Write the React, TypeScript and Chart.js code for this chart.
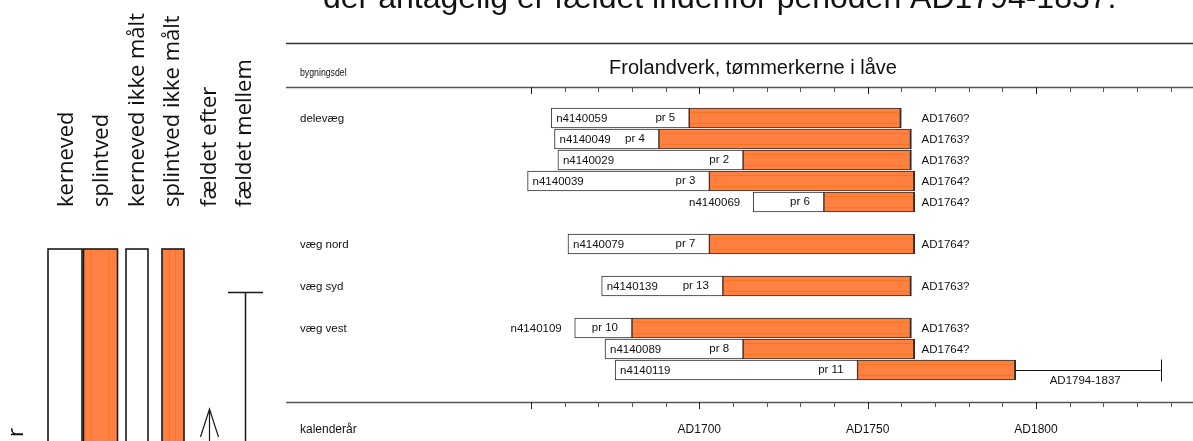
import React, { useEffect, useRef } from 'react';
import { Chart, registerables } from 'chart.js';

Chart.register(...registerables);

// ---------- data ----------
const pageHeading = 'der antagelig er fældet indenfor perioden AD1794-1837.';
const chartTitle = 'Frolandverk, tømmerkerne i låve';
const topAxisLabel = 'bygningsdel';
const bottomAxisLabel = 'kalenderår';

const groupLabels = ['delevæg', 'væg nord', 'væg syd', 'væg vest'];
const groupRows = [0, 6, 8, 10];

const sampleIds = ['n4140059', 'n4140049', 'n4140029', 'n4140039', 'n4140069', 'n4140079', 'n4140139', 'n4140109', 'n4140089', 'n4140119'];
const probeLabels = ['pr 5', 'pr 4', 'pr 2', 'pr 3', 'pr 6', 'pr 7', 'pr 13', 'pr 10', 'pr 8', 'pr 11'];
const sampleRows = [0, 1, 2, 3, 4, 6, 8, 10, 11, 12];
const startYears = [1656, 1657, 1658, 1649, 1716, 1661, 1671, 1663, 1672, 1675];
const sapwoodStartYears = [1697, 1688, 1713, 1703, 1737, 1703, 1707, 1680, 1713, 1747];
const endYears = [1760, 1763, 1763, 1764, 1764, 1764, 1763, 1763, 1764, 1794];
const datingLabels = ['AD1760?', 'AD1763?', 'AD1763?', 'AD1764?', 'AD1764?', 'AD1764?', 'AD1763?', 'AD1763?', 'AD1764?', 'AD1794-1837'];
const fellingRangeSample = 9;
const fellingRange = [1794, 1837];
const datingLabelYear = 1766;

const axisLabelYears = [1700, 1750, 1800];
const axisLabels = ['AD1700', 'AD1750', 'AD1800'];
const tickStartYear = 1650;
const tickEndYear = 1840;
const tickStep = 10;
const majorTickStep = 50;

const legendLabels = ['kerneved', 'splintved', 'kerneved ikke målt', 'splintved ikke målt', 'fældet efter', 'fældet mellem'];

// ---------- styles ----------
const ORANGE = 'rgb(255,128,64)';
const STRIPE = 'rgb(247,118,28)';
const EDGE = '#2e2e2e';
const SMALL_FONT = '11.5px "Liberation Sans", Arial, sans-serif';
const AXIS_FONT = '12px "Liberation Sans", Arial, sans-serif';
const LEGEND_FONT = '22px "Open Sans", "Noto Sans", sans-serif';

const decorPlugin = {
  id: 'decor',
  beforeDatasetsDraw(chart: any) {
    const ctx = chart.ctx as CanvasRenderingContext2D;
    const xs = chart.scales.x;
    const area = chart.chartArea;
    ctx.save();
    // frame lines
    ctx.strokeStyle = '#333';
    ctx.lineWidth = 1.5;
    ctx.beginPath();
    ctx.moveTo(area.left, 43.5);
    ctx.lineTo(area.right, 43.5);
    ctx.stroke();
    ctx.strokeStyle = '#555';
    ctx.beginPath();
    ctx.moveTo(area.left, area.top + 0.5);
    ctx.lineTo(area.right, area.top + 0.5);
    ctx.moveTo(area.left, area.bottom + 0.5);
    ctx.lineTo(area.right, area.bottom + 0.5);
    ctx.stroke();
    // ticks
    ctx.lineWidth = 1;
    for (let yr = tickStartYear; yr <= tickEndYear; yr += tickStep) {
      const px = Math.round(xs.getPixelForValue(yr)) + 0.5;
      const major = (yr - tickStartYear) % majorTickStep === 0;
      const len = major ? 7 : 5;
      ctx.strokeStyle = major ? '#222' : '#555';
      ctx.beginPath();
      ctx.moveTo(px, area.top);
      ctx.lineTo(px, area.top + len);
      ctx.moveTo(px, area.bottom);
      ctx.lineTo(px, area.bottom + len);
      ctx.stroke();
    }
    // texts
    ctx.fillStyle = '#111';
    ctx.textBaseline = 'middle';
    ctx.textAlign = 'left';
    ctx.font = SMALL_FONT;
    ctx.save();
    ctx.translate(300, 73);
    ctx.scale(0.76, 1);
    ctx.fillText(topAxisLabel, 0, 0);
    ctx.restore();
    ctx.font = AXIS_FONT;
    ctx.fillText(bottomAxisLabel, 300, 430);
    ctx.textAlign = 'center';
    axisLabelYears.forEach((yr, i) => {
      ctx.fillText(axisLabels[i], xs.getPixelForValue(yr), 430);
    });
    ctx.font = '20px "Liberation Sans", Arial, sans-serif';
    ctx.fillText(chartTitle, 753, 68);
    // page heading (cropped)
    ctx.font = '32px "Liberation Sans", Arial, sans-serif';
    ctx.textAlign = 'left';
    ctx.textBaseline = 'alphabetic';
    ctx.fillText(pageHeading, 323, 8);
    ctx.restore();
  },
  afterDatasetsDraw(chart: any) {
    const ctx = chart.ctx as CanvasRenderingContext2D;
    const xs = chart.scales.x;
    const ys = chart.scales.y;
    const sapMeta = chart.getDatasetMeta(1);
    ctx.save();
    // stripes in sapwood bars
    sapMeta.data.forEach((el: any) => {
      const p = el.getProps(['x', 'y', 'base', 'height'], true);
      const x1 = Math.min(p.x, p.base) + 1.5;
      const x2 = Math.max(p.x, p.base) - 2.5;
      const top = p.y - p.height / 2;
      const bot = p.y + p.height / 2;
      ctx.strokeStyle = STRIPE;
      ctx.lineWidth = 1;
      ctx.beginPath();
      ctx.moveTo(x1, Math.round(top + 4) + 0.5);
      ctx.lineTo(x2, Math.round(top + 4) + 0.5);
      ctx.moveTo(x1, Math.round(bot - 4) - 0.5);
      ctx.lineTo(x2, Math.round(bot - 4) - 0.5);
      ctx.stroke();
    });
    // group labels
    ctx.fillStyle = '#111';
    ctx.font = SMALL_FONT;
    ctx.textBaseline = 'middle';
    ctx.textAlign = 'left';
    groupLabels.forEach((g, i) => {
      ctx.fillText(g, 300, ys.getPixelForValue(groupRows[i]) + 1);
    });
    // sample labels
    sampleIds.forEach((id, i) => {
      const cy = ys.getPixelForValue(sampleRows[i]) + 1;
      const left = xs.getPixelForValue(startYears[i]);
      const split = xs.getPixelForValue(sapwoodStartYears[i]);
      if (split - left > 80) {
        ctx.textAlign = 'left';
        ctx.fillText(id, left + 5, cy);
      } else {
        ctx.textAlign = 'right';
        ctx.fillText(id, left - 13, cy);
      }
      ctx.textAlign = 'right';
      ctx.fillText(probeLabels[i], split - 14, cy - 1);
      if (i === fellingRangeSample) {
        const a = xs.getPixelForValue(fellingRange[0]);
        const b = xs.getPixelForValue(fellingRange[1]);
        const wy = Math.round(ys.getPixelForValue(sampleRows[i])) + 0.5;
        ctx.strokeStyle = '#111';
        ctx.lineWidth = 1;
        ctx.beginPath();
        ctx.moveTo(a, wy);
        ctx.lineTo(b, wy);
        ctx.moveTo(Math.round(b) + 0.5, wy - 11);
        ctx.lineTo(Math.round(b) + 0.5, wy + 11);
        ctx.stroke();
        ctx.textAlign = 'center';
        ctx.fillText(datingLabels[i], (a + b) / 2 - 3, wy + 10);
      } else {
        ctx.textAlign = 'left';
        ctx.fillText(datingLabels[i], xs.getPixelForValue(datingLabelYear), cy);
      }
    });
    ctx.restore();
  },
  afterDraw(chart: any) {
    const ctx = chart.ctx as CanvasRenderingContext2D;
    ctx.save();
    // legend boxes
    const boxes: [number, number, boolean][] = [
      [48, 82, false],
      [83.5, 117.5, true],
      [126, 148, false],
      [162, 184, true],
    ];
    boxes.forEach(([l, r, orange]) => {
      ctx.fillStyle = orange ? ORANGE : '#fff';
      ctx.fillRect(l, 249, r - l, 200);
      if (orange) {
        ctx.strokeStyle = STRIPE;
        ctx.lineWidth = 1;
        ctx.beginPath();
        ctx.moveTo(l + 7.5, 251);
        ctx.lineTo(l + 7.5, 441);
        ctx.moveTo(r - 8.5, 251);
        ctx.lineTo(r - 8.5, 441);
        ctx.stroke();
      }
      ctx.strokeStyle = '#1a1a1a';
      ctx.lineWidth = 1.6;
      ctx.strokeRect(l, 249, r - l, 200);
    });
    // fældet efter arrow
    ctx.strokeStyle = '#1a1a1a';
    ctx.lineWidth = 1.2;
    ctx.beginPath();
    ctx.moveTo(209.5, 409);
    ctx.lineTo(209.5, 441);
    ctx.moveTo(200.5, 437);
    ctx.lineTo(209.5, 409);
    ctx.lineTo(218.5, 437);
    ctx.stroke();
    // fældet mellem bar
    ctx.lineWidth = 1.5;
    ctx.beginPath();
    ctx.moveTo(228, 292.5);
    ctx.lineTo(263, 292.5);
    ctx.moveTo(245.5, 292.5);
    ctx.lineTo(245.5, 441);
    ctx.stroke();
    // rotated legend labels
    ctx.fillStyle = '#111';
    ctx.font = LEGEND_FONT;
    ctx.textAlign = 'left';
    ctx.textBaseline = 'alphabetic';
    const baselines = [73, 108, 144, 179, 216, 251];
    legendLabels.forEach((t, i) => {
      ctx.save();
      ctx.translate(baselines[i], 207);
      ctx.rotate(-Math.PI / 2);
      ctx.fillText(t, 0, 0);
      ctx.restore();
    });
    ctx.save();
    ctx.translate(23, 437);
    ctx.rotate(-Math.PI / 2);
    ctx.fillText('r', 0, 0);
    ctx.restore();
    ctx.restore();
  },
};

export default function App() {
  const ref = useRef<HTMLCanvasElement | null>(null);
  useEffect(() => {
    document.body.style.margin = '0';
    const canvas = ref.current;
    if (!canvas) return;
    const heartData = sampleRows.map((r, i) => ({ x: [startYears[i], sapwoodStartYears[i]], y: r }));
    const sapData = sampleRows.map((r, i) => ({ x: [sapwoodStartYears[i], endYears[i]], y: r }));
    const chart = new Chart(canvas, {
      type: 'bar',
      data: {
        datasets: [
          {
            label: 'kerneved',
            data: heartData as any,
            backgroundColor: '#ffffff',
            borderColor: EDGE,
            borderWidth: 1,
            borderSkipped: false,
            barThickness: 20,
            grouped: false,
          } as any,
          {
            label: 'splintved',
            data: sapData as any,
            backgroundColor: ORANGE,
            borderColor: EDGE,
            borderWidth: { top: 1, bottom: 1, left: 1, right: 2 },
            borderSkipped: false,
            barThickness: 20,
            grouped: false,
          } as any,
        ],
      },
      options: {
        indexAxis: 'y',
        animation: false,
        responsive: false,
        devicePixelRatio: 1,
        layout: { padding: { left: 286, right: 0, top: 87, bottom: 39 } },
        scales: {
          x: { type: 'linear', min: 1577.25, max: 1846.63, display: false, offset: false },
          y: { type: 'linear', min: -1.476, max: 13.524, reverse: true, display: false, offset: false },
        },
        plugins: {
          legend: { display: false },
          title: { display: false },
          tooltip: { enabled: false },
        },
      } as any,
      plugins: [decorPlugin],
    });
    return () => chart.destroy();
  }, []);
  return <canvas ref={ref} width={1193} height={441} style={{ display: 'block' }} />;
}
